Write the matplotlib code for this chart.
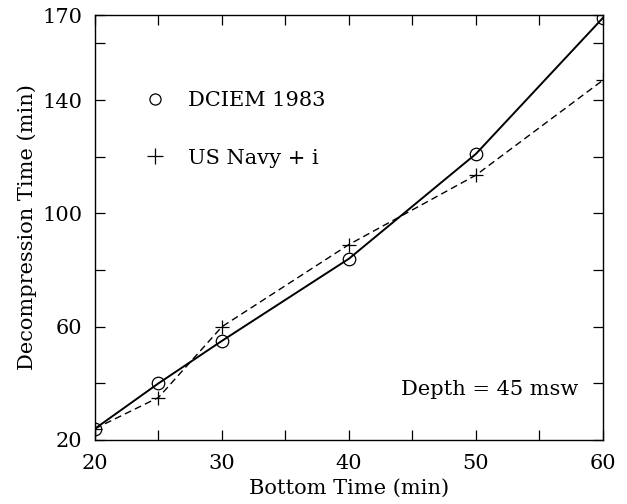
import matplotlib
matplotlib.use("Agg")
import matplotlib.pyplot as plt
from matplotlib.lines import Line2D

# Data
bottom_time = [20, 25, 30, 40, 50, 60]
dciem_1983 = [24, 40, 55, 84, 121, 169]
us_navy = [24, 35, 60, 89, 113.5, 147]

x_ticks = [20, 25, 30, 35, 40, 45, 50, 55, 60]
x_labels = ['20', '', '30', '', '40', '', '50', '', '60']
y_ticks = [20, 40, 60, 80, 100, 120, 140, 160, 170]
y_labels = ['20', '', '60', '', '100', '', '140', '', '170']

plt.rcParams['font.family'] = ['DejaVu Serif']
fs = 15

fig = plt.figure(figsize=(6.27, 5.04), dpi=100)
ax = fig.add_axes([0.1515, 0.127, 0.81, 0.843])

ax.plot(bottom_time, dciem_1983, color='black', linewidth=1.4, marker='o',
        markersize=9, markerfacecolor='none', markeredgecolor='black',
        markeredgewidth=0.9)
ax.plot(bottom_time, us_navy, color='black', linewidth=1.0, linestyle=(0, (5, 3)),
        marker='+', markersize=10, markeredgewidth=0.9)

ax.set_xlim(20, 60)
ax.set_ylim(20, 170)

ax.set_xticks(x_ticks)
ax.set_xticklabels(x_labels)
ax.set_yticks(y_ticks)
ax.set_yticklabels(y_labels)
ax.tick_params(direction='in', length=7, width=0.9, labelsize=fs,
               top=True, right=True)
ax.tick_params(axis='x', pad=10)
ax.tick_params(axis='y', pad=9)

for s in ax.spines.values():
    s.set_linewidth(1.0)

ax.set_xlabel('Bottom Time (min)', fontsize=fs, labelpad=4)
ax.set_ylabel('Decompression Time (min)', fontsize=fs, labelpad=4)

# Legend: markers only
handles = [
    Line2D([], [], linestyle='none', marker='o', markersize=8,
           markerfacecolor='none', markeredgecolor='black', markeredgewidth=0.9),
    Line2D([], [], linestyle='none', marker='+', markersize=11,
           color='black', markeredgewidth=0.9),
]
ax.legend(handles, ['DCIEM 1983', 'US Navy + i'], loc='upper left',
          bbox_to_anchor=(0.06, 0.865), frameon=False, fontsize=fs,
          labelspacing=1.85, handlelength=1.0, handletextpad=1.1)

ax.text(0.951, 0.118, 'Depth = 45 msw', transform=ax.transAxes,
        ha='right', va='center', fontsize=fs)

fig.savefig('out.png', dpi=100)
